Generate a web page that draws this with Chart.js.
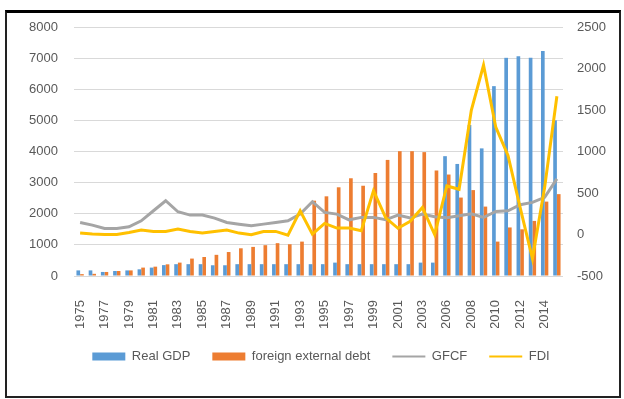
<!DOCTYPE html>
<html>
<head>
<meta charset="utf-8">
<script src="https://cdn.jsdelivr.net/npm/chart.js@4/dist/chart.umd.min.js"></script>
<style>
  body { margin: 0; background: #fff; }
  #wrap { position: relative; width: 624px; height: 399px; }
  #frame {
    position: absolute; left: 5px; top: 10px; width: 616px; height: 388px;
    box-sizing: border-box;
    border-top: 3px solid #000; border-left: 2px solid #222;
    border-right: 2px solid #222; border-bottom: 2px solid #222;
  }
  canvas { position: absolute; left: 0; top: 0; }
</style>
</head>
<body>
<div id="wrap">
  <div id="frame"></div>
  <canvas id="mixChart" width="624" height="399"></canvas>
</div>
<script>
const years = [
  1975, 1976, 1977, 1978, 1979, 1980, 1981, 1982, 1983, 1984,
  1985, 1986, 1987, 1988, 1989, 1990, 1991, 1992, 1993, 1994,
  1995, 1996, 1997, 1998, 1999, 2000, 2001, 2002, 2003, 2005,
  2006, 2007, 2008, 2009, 2010, 2011, 2012, 2013, 2014, 2015
];

// left axis
const realGDP = [
  180, 180, 130, 160, 180, 215, 270, 350, 380, 380,
  380, 345, 345, 380, 380, 380, 380, 380, 380, 380,
  380, 430, 380, 380, 380, 380, 380, 380, 430, 430,
  3850, 3600, 4850, 4100, 6100, 7010, 7060, 7010, 7230, 5000
];
const externalDebt = [
  60, 70, 130, 160, 180, 270, 300, 375, 430, 560,
  610, 680, 770, 890, 935, 990, 1055, 1020, 1105, 2420,
  2560, 2850, 3140, 2900, 3310, 3730, 4010, 4010, 3980, 3390,
  3260, 2520, 2760, 2230, 1105, 1560, 1500, 1770, 2390, 2630
];

// right axis
const gfcf = [
  145, 113, 72, 72, 93, 165, 286, 407, 274, 234,
  234, 198, 145, 124, 105, 125, 145, 165, 246, 395,
  266, 246, 177, 206, 206, 177, 234, 198, 246, 215,
  202, 225, 250, 205, 278, 285, 359, 387, 447, 670
];
const fdi = [
  17, 5, 0, 0, 24, 53, 36, 36, 65, 36,
  17, 36, 53, 17, -3, 37, 37, -8, 286, 5,
  133, 77, 77, 45, 528, 200, 75, 160, 326, 0,
  585, 545, 1496, 2040, 1294, 952, 320, -290, 568, 1666
];

Chart.defaults.font.family = "'Liberation Sans', Arial, sans-serif";
Chart.defaults.font.size = 13;
Chart.defaults.color = '#595959';

const chart = new Chart(document.getElementById('mixChart'), {
  data: {
    labels: years,
    datasets: [
      {
        type: 'bar',
        label: 'Real GDP',
        data: realGDP,
        backgroundColor: '#5B9BD5',
        yAxisID: 'y',
        order: 3,
        categoryPercentage: 0.6,
        barPercentage: 1.0
      },
      {
        type: 'bar',
        label: 'foreign external debt',
        data: externalDebt,
        backgroundColor: '#ED7D31',
        yAxisID: 'y',
        order: 3,
        categoryPercentage: 0.6,
        barPercentage: 1.0
      },
      {
        type: 'line',
        label: 'GFCF',
        data: gfcf,
        borderColor: '#A5A5A5',
        backgroundColor: '#A5A5A5',
        borderWidth: 3,
        pointRadius: 0,
        tension: 0,
        yAxisID: 'y1',
        order: 1
      },
      {
        type: 'line',
        label: 'FDI',
        data: fdi,
        borderColor: '#FFC000',
        backgroundColor: '#FFC000',
        borderWidth: 3,
        pointRadius: 0,
        tension: 0,
        yAxisID: 'y1',
        order: 0
      }
    ]
  },
  options: {
    responsive: false,
    animation: false,
    layout: {
      padding: { top: 27, bottom: 26, left: 18, right: 0 }
    },
    scales: {
      x: {
        grid: { display: false },
        border: { display: false },
        ticks: {
          autoSkip: false,
          minRotation: 90,
          maxRotation: 90,
          padding: 16,
          callback: function (val, index) {
            // every other year is labelled
            return index % 2 === 0 ? String(this.getLabelForValue(val)) : '';
          }
        },
        afterFit: (scale) => { scale.height = 52; }
      },
      y: {
        position: 'left',
        min: 0,
        max: 8000,
        ticks: { stepSize: 1000, padding: 16, callback: (v) => String(v) },
        grid: { color: '#D9D9D9', drawTicks: false },
        border: { display: false },
        afterFit: (scale) => { scale.width = 56; }
      },
      y1: {
        position: 'right',
        min: -500,
        max: 2500,
        ticks: { stepSize: 500, padding: 14, callback: (v) => String(v) },
        grid: { display: false, drawTicks: false },
        border: { display: false },
        afterFit: (scale) => { scale.width = 61; }
      }
    },
    plugins: {
      tooltip: { enabled: false },
      legend: {
        position: 'bottom',
        labels: {
          usePointStyle: true,
          pointStyleWidth: 33,
          boxHeight: 8,
          padding: 22,
          font: { size: 13 },
          sort: (a, b) => a.datasetIndex - b.datasetIndex,
          generateLabels: (c) => {
            const items = Chart.defaults.plugins.legend.labels.generateLabels(c);
            items.forEach((item) => {
              const ds = c.data.datasets[item.datasetIndex];
              if (ds.type === 'bar') {
                item.pointStyle = 'rect';
                item.lineWidth = 0;
                item.strokeStyle = ds.backgroundColor;
              } else {
                item.pointStyle = 'line';
                item.lineWidth = 2;
                item.strokeStyle = ds.borderColor;
              }
            });
            return items;
          }
        }
      }
    }
  }
});
</script>
</body>
</html>
